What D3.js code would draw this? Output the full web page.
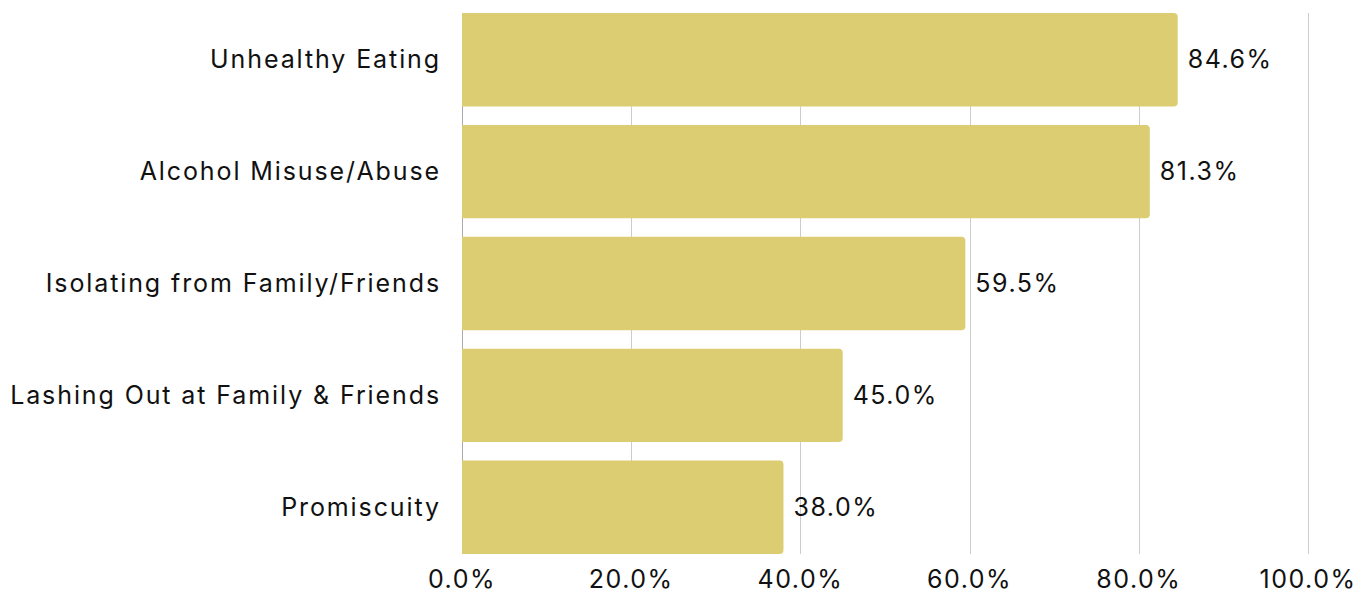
<!DOCTYPE html>
<meta charset="utf-8">
<title>behaviours</title>
<style>
  body { margin: 0; background: #fff; }
  text { font-family: Inter, "Open Sans", sans-serif; fill: #111; letter-spacing: 1.5px; }
  text.cat { letter-spacing: 1.9px; }
</style>
<body>
<div class="chart"></div>
<script src="https://d3js.org/d3.v7.min.js"></script>
<script>

// data

var categories = ["Unhealthy Eating", "Alcohol Misuse/Abuse", "Isolating from Family/Friends",
                  "Lashing Out at Family & Friends", "Promiscuity"];
var values = [84.6, 81.3, 59.5, 45.0, 38.0];
var ticks = [0, 20, 40, 60, 80, 100];

var W = 1372, H = 595;
var margin = {top: 13, right: 64, bottom: 41, left: 462};
var w = W - margin.left - margin.right,
    h = H - margin.top - margin.bottom;

var svg = d3.select(".chart").append("svg")
    .attr("width", W)
    .attr("height", H)
  .append("g")
    .attr("transform", "translate(" + margin.left + "," + margin.top + ")");

var xscale = d3.scaleLinear()
  .domain([0, 100])
  .range([0, w]);

var yscale = d3.scaleBand()
  .domain(categories)
  .range([0, h])
  .paddingInner(0.165)
  .paddingOuter(0);

// grid lines

svg.selectAll("line.grid")
  .data(ticks)
  .enter()
  .append("line")
  .attr("class", "grid")
  .attr("x1", function(d) { return Math.round(xscale(d)) + 0.5; })
  .attr("x2", function(d) { return Math.round(xscale(d)) + 0.5; })
  .attr("y1", 0)
  .attr("y2", h)
  .attr("stroke", function(d) { return d == 0 ? "#aaa" : "#ccc"; })
  .attr("stroke-width", 1);

// bars, rounded on the right end only

var r = 4;
svg.selectAll("path.bar")
  .data(values)
  .enter()
  .append("path")
  .attr("class", "bar")
  .attr("fill", "#dccd72")
  .attr("d", function(d, i) {
    var x1 = xscale(d), y0 = yscale(categories[i]), bh = yscale.bandwidth();
    return "M0," + y0 +
      "H" + (x1 - r) +
      "Q" + x1 + "," + y0 + " " + x1 + "," + (y0 + r) +
      "V" + (y0 + bh - r) +
      "Q" + x1 + "," + (y0 + bh) + " " + (x1 - r) + "," + (y0 + bh) +
      "H0Z";
  });

// value labels

svg.selectAll("text.val")
  .data(values)
  .enter()
  .append("text")
  .attr("class", "val")
  .attr("x", function(d) { return xscale(d) + 10; })
  .attr("y", function(d, i) { return yscale(categories[i]) + yscale.bandwidth() / 2; })
  .attr("dy", "0.35em")
  .attr("font-size", 25)
  .text(function(d) { return d.toFixed(1) + "%"; });

// category labels

svg.selectAll("text.cat")
  .data(categories)
  .enter()
  .append("text")
  .attr("class", "cat")
  .attr("x", -21)
  .attr("y", function(d) { return yscale(d) + yscale.bandwidth() / 2; })
  .attr("dy", "0.35em")
  .attr("text-anchor", "end")
  .attr("font-size", 25)
  .text(function(d) { return d; });

// x tick labels

svg.selectAll("text.tick")
  .data(ticks)
  .enter()
  .append("text")
  .attr("class", "tick")
  .attr("x", function(d) { return xscale(d); })
  .attr("y", h + 25)
  .attr("dy", "0.35em")
  .attr("text-anchor", "middle")
  .attr("font-size", 25)
  .text(function(d) { return d.toFixed(1) + "%"; });

</script>
</body>
